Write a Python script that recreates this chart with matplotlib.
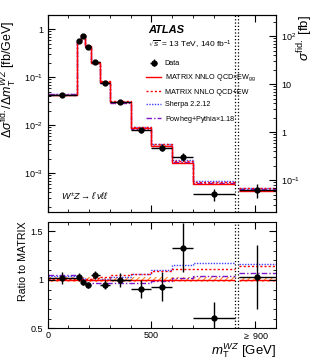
import numpy as np
import matplotlib
matplotlib.use('Agg')
from matplotlib import pyplot as plt
from matplotlib.ticker import FixedLocator, MultipleLocator, FuncFormatter, LogLocator, NullFormatter

plt.rcParams['font.family'] = ['Liberation Sans', 'DejaVu Sans']
plt.rcParams['mathtext.fontset'] = 'custom'
plt.rcParams['mathtext.rm'] = 'Liberation Sans'
plt.rcParams['mathtext.it'] = 'Liberation Sans:italic'
plt.rcParams['mathtext.bf'] = 'Liberation Sans:bold'
plt.rcParams['hatch.linewidth'] = 0.8

# binning in mT(WZ) [GeV], last bin is the overflow (>= 900) drawn on the right axis
edges = [0, 140, 160, 180, 210, 250, 300, 400, 500, 600, 700, 900]
overflow_edges = [920, 1100]

# differential cross sections [fb/GeV]; last entry is overflow sigma [fb]
matrix = [0.0425, 0.55, 0.76, 0.45, 0.20, 0.080, 0.030, 0.0086, 0.0037, 0.00165, 0.00060, 0.060]
data = [0.0434, 0.565, 0.74, 0.425, 0.21, 0.076, 0.030, 0.0078, 0.00344, 0.0022, 0.000363, 0.062]
data_rel_err = [0.06, 0.04, 0.03, 0.03, 0.04, 0.05, 0.07, 0.10, 0.16, 0.19, 0.28, 0.32]
matrix_rel_unc = [0.025, 0.025, 0.025, 0.025, 0.025, 0.025, 0.025, 0.025, 0.025, 0.025, 0.025, 0.025]

# predictions as ratio to MATRIX NNLO QCDxEW
ratio_qcd_ew = [1.01, 1.01, 1.01, 1.01, 1.02, 1.03, 1.05, 1.06, 1.09, 1.11, 1.11, 1.14]
ratio_sherpa = [1.04, 1.03, 1.02, 1.00, 1.00, 1.01, 1.03, 1.06, 1.10, 1.15, 1.17, 1.16]
ratio_powheg = [1.045, 1.03, 1.00, 0.97, 0.97, 0.97, 0.97, 0.97, 0.99, 1.02, 1.04, 1.075]

scale_right = 140.0
ylo, yhi = 1.56e-4, 2.01

c_red = '#ff0000'
c_blue = '#3f3fff'
c_purple = '#7b16c9'
c_band = '#ff8a2a'

ls_pw = (0, (4, 1.5, 1, 1.5))
ls_sh = (0, (1, 1))
ls_qe = (0, (1.5, 1.5))

fig = plt.figure(figsize=(3.17, 3.59), dpi=100)
ax = fig.add_axes([0.1505, 0.4095, 0.7202, 0.5495])
ax_r = fig.add_axes([0.1505, 0.0855, 0.7202, 0.297])
ax2 = ax.twinx()

matrix = np.array(matrix)
data = np.array(data)
err = np.array(data_rel_err)
unc = np.array(matrix_rel_unc)
r_qe = np.array(ratio_qcd_ew)
r_sh = np.array(ratio_sherpa)
r_pw = np.array(ratio_powheg)

n = len(edges) - 1
centers = 0.5 * (np.array(edges[:-1]) + np.array(edges[1:]))
halfw = 0.5 * (np.array(edges[1:]) - np.array(edges[:-1]))
oc = 0.5 * (overflow_edges[0] + overflow_edges[1])
ohw = 0.5 * (overflow_edges[1] - overflow_edges[0])


def draw_preds(a, base, sl, ed):
    # base: nominal MATRIX values in this panel, sl: slice of bins
    a.stairs(base * (1 + unc[sl]), ed, baseline=base * (1 - unc[sl]), fill=True,
             facecolor='none', edgecolor=c_band, hatch='//////', lw=0)
    a.stairs(base * r_pw[sl], ed, baseline=None, color=c_purple, lw=1.0, ls=ls_pw)
    a.stairs(base * r_sh[sl], ed, baseline=None, color=c_blue, lw=1.0, ls=ls_sh)
    a.stairs(base * r_qe[sl], ed, baseline=None, color=c_red, lw=1.0, ls=ls_qe)
    a.stairs(base * np.ones(len(r_qe[sl])), ed, baseline=None, color=c_red, lw=1.0)


main = slice(0, n)
over = slice(n, n + 1)

# main panel
draw_preds(ax, matrix[main], main, edges)
ax.errorbar(centers, data[main], xerr=halfw, yerr=data[main] * err[main], fmt='o', color='black',
            ms=3.5, lw=1.0, capsize=0, zorder=10)

draw_preds(ax2, matrix[over], over, overflow_edges)
ax2.errorbar([oc], data[over], xerr=[ohw], yerr=data[over] * err[over], fmt='o', color='black',
             ms=3.5, lw=1.0, capsize=0, zorder=10)

ax.set_yscale('log')
ax.set_ylim(ylo, yhi)
ax2.set_yscale('log')
ax2.set_ylim(ylo * scale_right, yhi * scale_right)


def log_fmt(v, pos):
    e = int(round(np.log10(v)))
    if e == 0:
        return '1'
    if e == 1:
        return '10'
    return r'$10^{%d}$' % e


for a in (ax, ax2):
    a.yaxis.set_major_locator(LogLocator(base=10, numticks=10))
    a.yaxis.set_minor_locator(LogLocator(base=10, subs=np.arange(2, 10), numticks=20))
    a.yaxis.set_major_formatter(FuncFormatter(log_fmt))
    a.yaxis.set_minor_formatter(NullFormatter())

# legend
lh = []
lh.append(ax.errorbar([], [], xerr=[], yerr=[], fmt='o', color='black', ms=3.5, lw=1.0))
lh.append(plt.Line2D([], [], color=c_red, lw=1.0))
lh.append(plt.Line2D([], [], color=c_red, lw=1.0, ls=ls_qe))
lh.append(plt.Line2D([], [], color=c_blue, lw=1.0, ls=ls_sh))
lh.append(plt.Line2D([], [], color=c_purple, lw=1.0, ls=ls_pw))
labels = ['Data', r'MATRIX NNLO QCD$\times$EW$_{\rm gg}$', 'MATRIX NNLO QCD+EW',
          'Sherpa 2.2.12', r'Powheg+Pythia$\times$1.18']
ax2.legend(lh, labels, loc='upper left', bbox_to_anchor=(0.42, 0.785), frameon=False,
           fontsize=5.2, handlelength=2.0, handletextpad=0.5, labelspacing=0.75, borderaxespad=0)

ax.text(0.44, 0.925, 'ATLAS', transform=ax.transAxes, fontsize=8, fontweight='bold',
        style='italic', va='center')
ax.text(0.44, 0.845, r'$\sqrt{s}$ = 13 TeV, 140 fb$^{-1}$', transform=ax.transAxes,
        fontsize=6.0, va='center')
ax.text(0.06, 0.08, r"$W^{\pm}Z \rightarrow \ell'\nu\ell\ell$", transform=ax.transAxes,
        fontsize=6.5, va='center')

ax.set_ylabel(r'$\Delta\sigma^{\rm fid.}/\Delta m_{\rm T}^{WZ}$ [fb/GeV]', fontsize=9, loc='top')
ax.yaxis.set_label_coords(-0.125, 0.97)
ax2.set_ylabel(r'$\sigma^{\rm fid.}$ [fb]', fontsize=9.5, loc='top', rotation=90)
ax2.yaxis.set_label_coords(1.085, 1.0)

# ratio panel
ratio_data = data / matrix
r_err = ratio_data * err
draw_preds(ax_r, np.ones(n), main, edges)
draw_preds(ax_r, np.ones(1), over, overflow_edges)

ax_r.errorbar(list(centers) + [oc], ratio_data, xerr=list(halfw) + [ohw], yerr=r_err, fmt='o',
              color='black', ms=3.5, lw=1.0, capsize=0, zorder=10)

ax_r.set_ylim(0.5, 1.6)
ax_r.yaxis.set_major_locator(FixedLocator([0.5, 1.0, 1.5]))
ax_r.yaxis.set_major_formatter(FuncFormatter(lambda v, p: '%g' % v))
ax_r.yaxis.set_minor_locator(MultipleLocator(0.1))
ax_r.set_ylabel('Ratio to MATRIX', fontsize=7.7, loc='top', labelpad=2)
ax_r.set_xlabel(r'$m_{\rm T}^{WZ}$ [GeV]', fontsize=9.5, loc='right', labelpad=0)

for a in (ax, ax_r):
    a.set_xlim(0, 1100)
    a.xaxis.set_major_locator(FixedLocator([0, 500, 1000]))
    a.xaxis.set_minor_locator(FixedLocator([100, 200, 300, 400, 600, 700, 800]))
    a.axvline(900, color='black', ls=':', lw=0.9)
    a.axvline(918, color='black', ls=':', lw=0.9)

ax_r.set_xticklabels(['0', '500', r'$\geq$ 900'])
ax.set_xticklabels([])

ax.tick_params(axis='both', which='both', direction='in', top=True, right=False, labelsize=6.5)
ax2.tick_params(axis='y', which='both', direction='in', labelsize=6.5)
ax_r.tick_params(axis='both', which='both', direction='in', top=True, right=True, labelsize=6.5)
ax_r.tick_params(axis='x', pad=2)
for a in (ax, ax2, ax_r):
    a.tick_params(which='major', length=5)
    a.tick_params(which='minor', length=2.5)

fig.savefig('out.png', dpi=100)
